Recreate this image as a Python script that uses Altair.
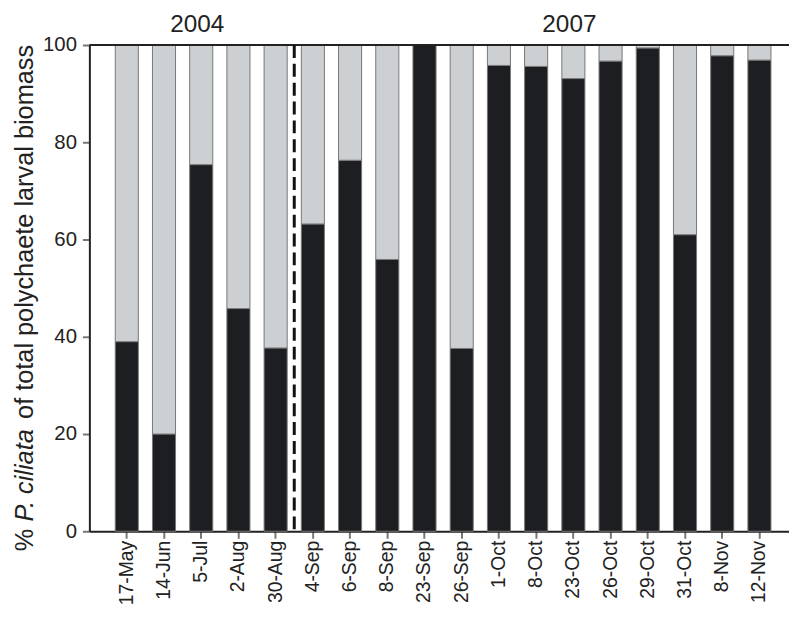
import altair as alt
import pandas as pd

dates = ["17-May", "14-Jun", "5-Jul", "2-Aug", "30-Aug", "4-Sep", "6-Sep", "8-Sep",
         "23-Sep", "26-Sep", "1-Oct", "8-Oct", "23-Oct", "26-Oct", "29-Oct", "31-Oct",
         "8-Nov", "12-Nov"]
ciliata = [39.0, 20.0, 75.4, 45.8, 37.7, 63.2, 76.3, 55.9, 100.0, 37.6, 95.8, 95.6,
           93.1, 96.7, 99.4, 61.0, 97.8, 96.9]
parts = ["P. ciliata", "Other"]
years = ["2004", "2007"]
year_centres = ["5-Jul", "23-Oct"]
divider_after = "30-Aug"

rows = []
for d, v in zip(dates, ciliata):
    rows.append({"date": d, "part": parts[0], "value": v, "ord": 0})
    rows.append({"date": d, "part": parts[1], "value": round(100 - v, 2), "ord": 1})
df = pd.DataFrame(rows)
ydf = pd.DataFrame({"year": years, "date": year_centres})

FONT = "Liberation Sans"
W, H = 705, 490
n = len(dates)
step = 37.5
pad_inner = 0.38
pad_outer = (W / step - (n - pad_inner)) / 2
align = (37.7 - step * (1 - pad_inner) / 2) / (2 * pad_outer * step)

xscale = alt.Scale(paddingInner=pad_inner, paddingOuter=pad_outer, align=align)

bars = alt.Chart(df).mark_bar(stroke="#777777", strokeWidth=1).encode(
    x=alt.X("date:N", sort=dates, scale=xscale,
            axis=alt.Axis(title=None, labelAngle=-90, labelFontSize=19.5, labelPadding=2,
                          labelColor="#222222", labelFont=FONT, tickSize=7, tickWidth=2,
                          tickColor="#777777", domainColor="#222222", domainWidth=2)),
    y=alt.Y("value:Q", stack="zero", scale=alt.Scale(domain=[0, 100], nice=False),
            axis=alt.Axis(title=None, values=[0, 20, 40, 60, 80, 100], grid=False,
                          labelFontSize=20.5, labelPadding=6, labelColor="#222222",
                          labelFont=FONT, tickSize=7, tickWidth=2, tickColor="#777777",
                          domainColor="#222222", domainWidth=2)),
    color=alt.Color("part:N", scale=alt.Scale(domain=parts, range=["#1d1e21", "#ccd0d3"]),
                    legend=None),
    order=alt.Order("ord:Q", sort="ascending"),
)

top_line = alt.Chart(pd.DataFrame({"v": [100]})).mark_rule(
    color="#222222", strokeWidth=2).encode(y=alt.Y("v:Q"))

divider = alt.Chart(pd.DataFrame({"date": [divider_after]})).mark_rule(
    color="#111111", strokeWidth=3, strokeDash=[13, 6], xOffset=step / 2
).encode(x=alt.X("date:N", sort=dates))

year_text = alt.Chart(ydf).mark_text(
    fontSize=24.5, font=FONT, color="#222222", baseline="alphabetic", dx=-4
).encode(x=alt.X("date:N", sort=dates), y=alt.value(-13), text="year:N")

fs = 25.5
y0 = 510
seg_text = ["%", "P. ciliata", "of total polychaete larval biomass"]
seg_off = [0, (0.889 + 0.278) * fs, (0.889 + 0.278 + 3.779 + 0.278) * fs]
seg_style = ["normal", "italic", "normal"]
title_layers = []
for t, o, s in zip(seg_text, seg_off, seg_style):
    title_layers.append(
        alt.Chart(pd.DataFrame({"t": [t]})).mark_text(
            angle=270, align="left", baseline="alphabetic", fontSize=fs, font=FONT,
            fontStyle=s, color="#222222"
        ).encode(x=alt.value(-57), y=alt.value(y0 - o), text="t:N")
    )

chart = alt.layer(bars, top_line, divider, year_text, *title_layers).properties(
    width=W, height=H,
    autosize=alt.AutoSizeParams(type="none"),
    padding={"left": 82, "top": 35, "right": 0, "bottom": 74},
).configure_view(stroke=None).configure(background="white")

chart.save("out.html", embed_options={"renderer": "svg", "actions": False})
